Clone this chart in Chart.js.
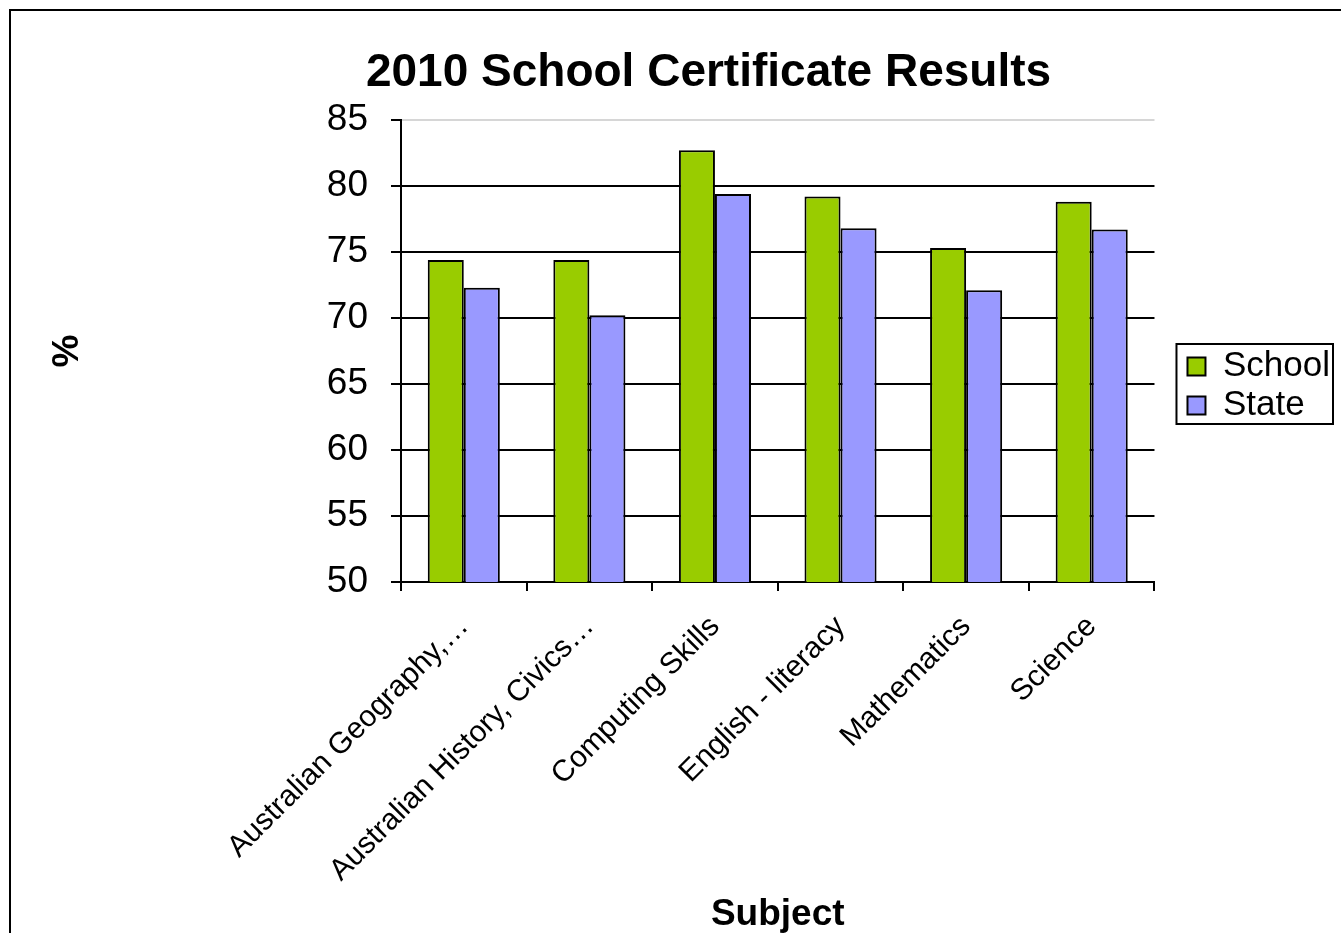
<!DOCTYPE html>
<html>
<head>
<meta charset="utf-8">
<title>2010 School Certificate Results</title>
<script src="https://cdn.jsdelivr.net/npm/chart.js@4.4.1/dist/chart.umd.min.js"></script>
<style>
  html, body { margin: 0; padding: 0; overflow: hidden; background: #fff; }
  #wrap { width: 1341px; height: 933px; }
</style>
</head>
<body>
<div id="wrap"><canvas id="chartBar"></canvas></div>
<script>
// subjects on the x axis
const subjects = [
  "Australian Geography,\u2026",
  "Australian History, Civics\u2026",
  "Computing Skills",
  "English - literacy",
  "Mathematics",
  "Science"
];
// percentages per subject
const schoolScores = [74.4, 74.4, 82.7, 79.2, 75.3, 78.8];
const stateScores = [72.3, 70.2, 79.4, 76.8, 72.1, 76.7];
// value axis ticks
const yTicks = [50, 55, 60, 65, 70, 75, 80, 85];

const FONT = "'Liberation Sans', Arial, sans-serif";

// outer frame of the chart
const framePlugin = {
  id: "frame",
  beforeDraw(chart) {
    const ctx = chart.ctx;
    ctx.save();
    ctx.fillStyle = "#fff";
    ctx.fillRect(0, 0, chart.width, chart.height);
    ctx.strokeStyle = "#000";
    ctx.lineWidth = 2;
    ctx.strokeRect(10, 10, chart.width + 40, chart.height + 40);
    ctx.restore();
  }
};

// title sits a little right of centre; legend goes next to the plot with a box round it
const layoutTweaks = {
  id: "layoutTweaks",
  afterLayout(chart) {
    const tb = chart.titleBlock;
    tb.left += 33;
    tb.right += 33;

    const lg = chart.legend;
    const area = chart.chartArea;
    lg.left = area.right + 29;
    lg.right = lg.left + lg.width;
    lg.top = area.top + 225;
    lg.bottom = lg.top + lg.height;
  },
  afterDraw(chart) {
    const boxes = chart.legend.legendHitBoxes;
    if (!boxes || !boxes.length) return;
    let l = Infinity, r = -Infinity, t = Infinity, b = -Infinity;
    boxes.forEach(h => {
      l = Math.min(l, h.left);
      r = Math.max(r, h.left + h.width);
      t = Math.min(t, h.top);
      b = Math.max(b, h.top + h.height);
    });
    const ctx = chart.ctx;
    ctx.save();
    ctx.strokeStyle = "#000";
    ctx.lineWidth = 2;
    ctx.strokeRect(l - 11, t - 5, r - l + 14, b - t + 6);
    ctx.restore();
  }
};

const dataBarChart = {
  labels: subjects,
  datasets: [
    {
      label: "School",
      data: schoolScores,
      backgroundColor: "#99CC00",
      borderColor: "#000",
      borderWidth: 2,
      categoryPercentage: 0.574,
      barPercentage: 1.0
    },
    {
      label: "State",
      data: stateScores,
      backgroundColor: "#9999FF",
      borderColor: "#000",
      borderWidth: 2,
      categoryPercentage: 0.574,
      barPercentage: 1.0
    }
  ]
};

const configBarChart = {
  type: "bar",
  data: dataBarChart,
  options: {
    responsive: true,
    maintainAspectRatio: false,
    animation: false,
    layout: { padding: { left: 40, right: 30, top: 0, bottom: 0 } },
    plugins: {
      title: {
        display: true,
        text: "2010 School Certificate Results",
        color: "#000",
        font: { family: FONT, size: 46, weight: "bold" },
        padding: { top: 46, bottom: 18.8 }
      },
      legend: {
        position: "right",
        align: "start",
        fullSize: false,
        labels: {
          color: "#000",
          font: { family: FONT, size: 35 },
          boxWidth: 18,
          boxHeight: 18,
          padding: 4
        }
      },
      tooltip: { enabled: false }
    },
    scales: {
      x: {
        grid: {
          offset: true,
          drawOnChartArea: false,
          tickLength: 9,
          tickColor: "#000",
          lineWidth: 2
        },
        border: { color: "#000", width: 2 },
        ticks: {
          color: "#000",
          font: { family: FONT, size: 30 },
          minRotation: 45,
          maxRotation: 45,
          autoSkip: false,
          padding: 18
        },
        title: {
          display: true,
          text: "Subject",
          color: "#000",
          font: { family: FONT, size: 37, weight: "bold", lineHeight: 1 },
          padding: 0
        },
        afterFit: s => { s.height = 351; }
      },
      y: {
        min: yTicks[0],
        max: yTicks[yTicks.length - 1],
        afterBuildTicks: s => { s.ticks = yTicks.map(v => ({ value: v })); },
        grid: {
          color: c => (c.tick && c.tick.value === 85 ? "#d6d6d6" : "#000"),
          lineWidth: 2,
          tickLength: 10,
          tickColor: "#000"
        },
        border: { color: "#000", width: 2 },
        ticks: {
          color: "#000",
          font: { family: FONT, size: 37 },
          padding: 23
        },
        title: {
          display: true,
          text: "%",
          color: "#000",
          font: { family: FONT, size: 37, weight: "bold" },
          padding: { top: 6, bottom: 0 }
        },
        afterFit: s => { s.width = 361; }
      }
    }
  },
  plugins: [framePlugin, layoutTweaks]
};

var canvas = document.getElementById("chartBar");
var chartBar = new Chart(canvas, configBarChart);
</script>
</body>
</html>
